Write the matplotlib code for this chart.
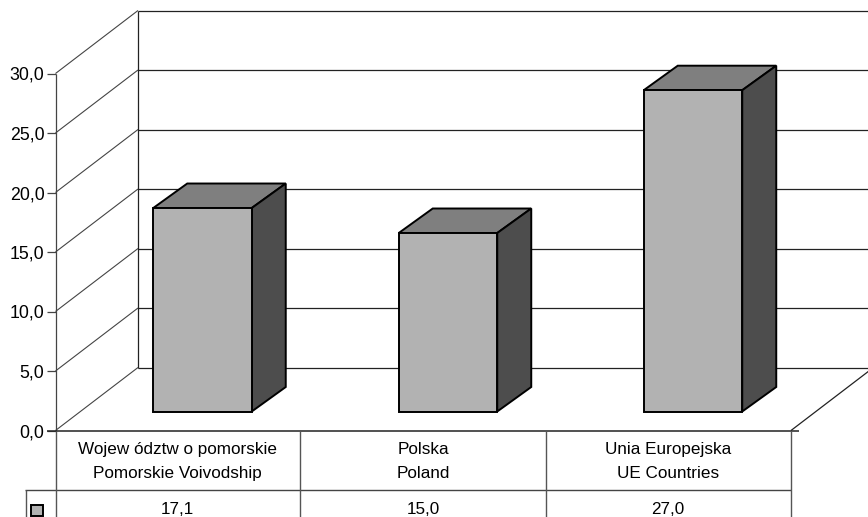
import matplotlib
matplotlib.use("Agg")
import matplotlib.pyplot as plt
from matplotlib.patches import Polygon

plt.rcParams["font.family"] = ["Liberation Sans", "DejaVu Sans"]

kategorie = [("Wojew ództw o pomorskie", "Pomorskie Voivodship"), ("Polska", "Poland"), ("Unia Europejska", "UE Countries")]
wartosci = [17.1, 15.0, 27.0]
etykiety = ["17,1", "15,0", "27,0"]
ticks = [0, 5, 10, 15, 20, 25, 30]
tick_labels = ["0,0", "5,0", "10,0", "15,0", "20,0", "25,0", "30,0"]

W, H = 868, 517
fig = plt.figure(figsize=(W / 100, H / 100), dpi=100)
ax = fig.add_axes([0, 0, 1, 1])
ax.set_xlim(0, W)
ax.set_ylim(H, 0)
ax.axis("off")

# geometria osi: przednia sciana i przesuniecie glebi
x0, x1 = 55.5, 791
y0 = 430.5
na_jednostke = 11.9
dx, dy = 82.5, -63
SZARY = "#444444"


def y_od(v):
    return y0 - v * na_jednostke


def linia(xs, ys, lw=1.0, kolor="black"):
    ax.plot(xs, ys, color=kolor, lw=lw, solid_capstyle="butt", zorder=2)


# siatka na tylnej scianie i lewej scianie
for t, lab in zip(ticks, tick_labels):
    y = y_od(t)
    linia([x0, x0 + dx], [y, y + dy], 0.8, SZARY)
    linia([x0 + dx, W], [y + dy, y + dy], 0.9, "#222222")
    linia([x0 - 9, x0], [y, y], 0.9, SZARY)
    ax.text(44.5, y + 6.5, lab, ha="right", va="baseline", fontsize=12.8)
linia([x0, x0], [y_od(30), y0], 0.9, SZARY)
linia([x0 + dx, x0 + dx], [y_od(30) + dy, y0 + dy], 0.9, "#222222")
linia([x1, x1 + dx], [y0, y0 + dy], 0.9, "#222222")

# slupki 3D
szer = 98.5
glebia_x, glebia_y = 34, -24.5
srodki = [202.5, 448, 693]
podstawa = 411.5
for xc, v in zip(srodki, wartosci):
    l, r = xc - szer / 2, xc + szer / 2
    top = podstawa - v * na_jednostke
    ax.add_patch(Polygon([(l, top), (r, top), (r + glebia_x, top + glebia_y), (l + glebia_x, top + glebia_y)],
                         fc="#7f7f7f", ec="black", lw=1.4, zorder=3))
    ax.add_patch(Polygon([(r, top), (r + glebia_x, top + glebia_y), (r + glebia_x, podstawa + glebia_y), (r, podstawa)],
                         fc="#4d4d4d", ec="black", lw=1.4, zorder=3))
    ax.add_patch(Polygon([(l, top), (r, top), (r, podstawa), (l, podstawa)],
                         fc="#b2b2b2", ec="black", lw=1.4, zorder=4))

# tabela danych pod wykresem
granice = [x0, 300, 546, x1]
wiersz = 489.5
linia([x0 - 9, x1 + 8], [y0 + 0.5, y0 + 0.5], 1.1, "#222222")
linia([25, x1], [wiersz, wiersz], 1.0, SZARY)
for x in granice:
    linia([x, x], [y0, H], 1.0, "#555555")
linia([25.5, 25.5], [wiersz, H], 1.0, "#555555")
srodki_tab = [177.5, 423, 668]
for xc, (pl, en), et in zip(srodki_tab, kategorie, etykiety):
    ax.text(xc, 454, pl, ha="center", va="baseline", fontsize=12.3)
    ax.text(xc, 478, en, ha="center", va="baseline", fontsize=12.3)
    ax.text(xc, 514, et, ha="center", va="baseline", fontsize=12.3)
ax.add_patch(Polygon([(31, 504.5), (42.5, 504.5), (42.5, 516), (31, 516)], fc="#b2b2b2", ec="black", lw=1.4))

fig.savefig("out.png", dpi=100)
